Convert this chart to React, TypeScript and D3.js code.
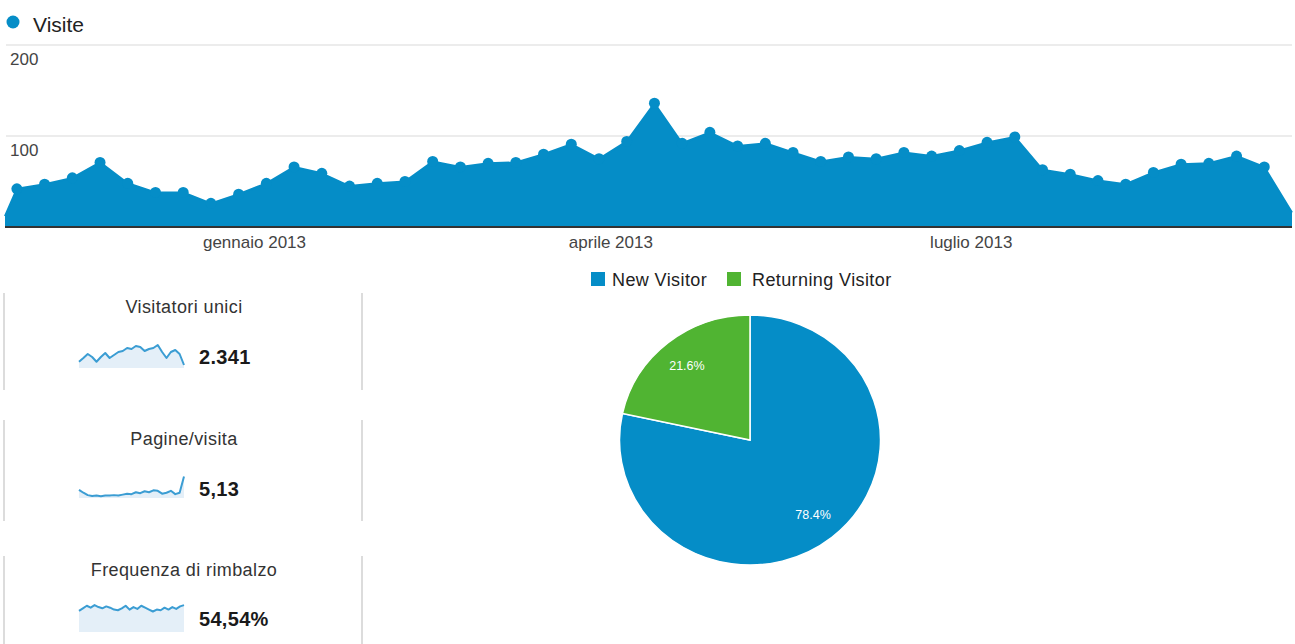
import React from "react";
import * as d3 from "d3";

// ---- Data ----
const visitDates = [
  "2012-10-30",
  "2012-11-02", "2012-11-09", "2012-11-16", "2012-11-23", "2012-11-30",
  "2012-12-07", "2012-12-14", "2012-12-21", "2012-12-28",
  "2013-01-04", "2013-01-11", "2013-01-18", "2013-01-25",
  "2013-02-01", "2013-02-08", "2013-02-15", "2013-02-22",
  "2013-03-01", "2013-03-08", "2013-03-15", "2013-03-22", "2013-03-29",
  "2013-04-05", "2013-04-12", "2013-04-19", "2013-04-26",
  "2013-05-03", "2013-05-10", "2013-05-17", "2013-05-24", "2013-05-31",
  "2013-06-07", "2013-06-14", "2013-06-21", "2013-06-28",
  "2013-07-05", "2013-07-12", "2013-07-19", "2013-07-26",
  "2013-08-02", "2013-08-09", "2013-08-16", "2013-08-23", "2013-08-30",
  "2013-09-06", "2013-09-13",
  "2013-09-20",
];
const visitValues = [
  12,
  42, 47, 54, 71, 48,
  38, 38, 26, 36,
  48, 66, 59, 45,
  48, 50, 72, 66,
  70, 71, 80, 91, 75,
  94, 136, 92, 104,
  89, 92, 82, 72, 77,
  75, 82, 78, 84,
  93, 99, 63, 58,
  51, 47, 60, 69, 70,
  78, 66,
  16,
];
const yTicks = [100, 200];
const monthTicks = ["2013-01-01", "2013-04-01", "2013-07-01"];
const monthLabels = ["gennaio 2013", "aprile 2013", "luglio 2013"];
const seriesName = "Visite";

const kpiTitles = ["Visitatori unici", "Pagine/visita", "Frequenza di rimbalzo"];
const kpiValues = ["2.341", "5,13", "54,54%"];
const sparkUnique = [25, 40, 56, 44, 25, 44, 60, 40, 52, 64, 68, 80, 76, 88, 84, 68, 76, 80, 92, 64, 40, 64, 72, 56, 12];
const sparkPages = [34, 22, 12, 8, 10, 7, 10, 10, 12, 10, 14, 18, 16, 24, 20, 28, 24, 32, 30, 18, 22, 30, 16, 22, 90];
const sparkBounce = [66, 74, 82, 76, 84, 78, 74, 80, 76, 70, 68, 74, 82, 70, 78, 72, 82, 76, 70, 64, 70, 68, 76, 70, 78, 72, 80, 84];

const pieLabels = ["New Visitor", "Returning Visitor"];
const pieValues = [78.4, 21.6];
const pieColors = ["#058dc7", "#50b432"];

const FONT = "'Liberation Sans', Arial, Helvetica, sans-serif";
const BLUE = "#058dc7";

function Sparkline({ data, x0, x1, yTop, yBottom }: { data: number[]; x0: number; x1: number; yTop: number; yBottom: number }) {
  const sx = d3.scaleLinear().domain([0, data.length - 1]).range([x0, x1]);
  const sy = d3.scaleLinear().domain([0, 100]).range([yBottom, yTop]);
  const area = d3.area<number>().x((_, i) => sx(i)).y0(yBottom).y1((d) => sy(d));
  const line = d3.line<number>().x((_, i) => sx(i)).y((d) => sy(d));
  return (
    <g>
      <path d={area(data) || ""} fill="#e4eff8" />
      <path d={line(data) || ""} fill="none" stroke="#3b9dd3" strokeWidth={2} strokeLinejoin="round" />
    </g>
  );
}

export default function App() {
  const W = 1295;
  const H = 644;
  const parse = d3.timeParse("%Y-%m-%d");
  const dates = visitDates.map((s) => parse(s) as Date);
  const x = d3.scaleTime().domain([dates[0], dates[dates.length - 1]]).range([5, 1292]);
  const y = d3.scaleLinear().domain([0, 200]).range([227, 45]);

  const pts = dates.map((d, i) => ({ d, v: visitValues[i] }));
  const area = d3.area<{ d: Date; v: number }>().x((p) => x(p.d)).y0(y(0)).y1((p) => y(p.v));
  const line = d3.line<{ d: Date; v: number }>().x((p) => x(p.d)).y((p) => y(p.v));

  // pie
  const pie = d3.pie<number>().sort(null).value((d) => d)(pieValues);
  const R = 125;
  const arc = d3.arc<d3.PieArcDatum<number>>().innerRadius(0).outerRadius(R);
  const labelArc = d3.arc<d3.PieArcDatum<number>>().innerRadius(R * 0.77).outerRadius(R * 0.77);
  const cx = 750, cy = 440, sxPie = 1.044;

  const kpiBoxes = [
    { top: 293, bottom: 390, titleY: 313, sparkTop: 343, sparkBottom: 368, valueY: 364 },
    { top: 420, bottom: 521, titleY: 445, sparkTop: 474, sparkBottom: 498, valueY: 496 },
    { top: 556, bottom: 644, titleY: 576, sparkTop: 600, sparkBottom: 632, valueY: 626 },
  ];
  const sparks = [sparkUnique, sparkPages, sparkBounce];

  return (
    <svg width={W} height={H} style={{ position: "absolute", left: 0, top: 0, background: "#fff" }} fontFamily={FONT}>
      {/* legend */}
      <circle cx={13} cy={22} r={6.5} fill={BLUE} />
      <text x={33} y={32} fontSize={21} fill="#222">{seriesName}</text>

      {/* gridlines */}
      {yTicks.map((t) => (
        <g key={t}>
          <line x1={6} x2={1292} y1={y(t)} y2={y(t)} stroke="#ececec" strokeWidth={2} />
        </g>
      ))}

      {/* area */}
      <path d={area(pts) || ""} fill={BLUE} />
      <path d={line(pts) || ""} fill="none" stroke={BLUE} strokeWidth={2} strokeLinejoin="round" />
      {pts.slice(1, pts.length - 1).map((p, i) => (
        <circle key={i} cx={x(p.d)} cy={y(p.v)} r={5.5} fill={BLUE} />
      ))}

      {/* tick labels */}
      {yTicks.map((t) => (
        <text key={"l" + t} x={10} y={y(t) + 19.5} fontSize={17} fill="#444">{t}</text>
      ))}

      {/* x axis */}
      <line x1={5} x2={1292} y1={227} y2={227} stroke="#333" strokeWidth={2} />
      {monthTicks.map((m, i) => (
        <text key={m} x={x(parse(m) as Date)} y={248} fontSize={17} fill="#444" textAnchor="middle">{monthLabels[i]}</text>
      ))}

      {/* KPI boxes */}
      {kpiBoxes.map((b, i) => (
        <g key={i}>
          <line x1={4} x2={4} y1={b.top} y2={b.bottom} stroke="#dcdcdc" strokeWidth={2} />
          <line x1={362} x2={362} y1={b.top} y2={b.bottom} stroke="#dcdcdc" strokeWidth={2} />
          <text x={184} y={b.titleY} fontSize={18} letterSpacing={0.4} fill="#333" textAnchor="middle">{kpiTitles[i]}</text>
          <Sparkline data={sparks[i]} x0={79} x1={184} yTop={b.sparkTop} yBottom={b.sparkBottom} />
          <text x={199} y={b.valueY} fontSize={20} fontWeight="bold" fill="#1a1a1a" letterSpacing={0.3}>{kpiValues[i]}</text>
        </g>
      ))}

      {/* pie legend */}
      <rect x={591} y={272} width={14} height={14} fill={pieColors[0]} />
      <text x={612} y={286} fontSize={18} letterSpacing={0.4} fill="#222">{pieLabels[0]}</text>
      <rect x={727} y={272} width={14} height={14} fill={pieColors[1]} />
      <text x={752} y={286} fontSize={18} letterSpacing={0.4} fill="#222">{pieLabels[1]}</text>

      {/* pie */}
      <g transform={`translate(${cx},${cy}) scale(${sxPie},1)`}>
        {pie.map((s, i) => (
          <path key={i} d={arc(s) || ""} fill={pieColors[i]} stroke="#fff" strokeWidth={1.5} vectorEffect="non-scaling-stroke" />
        ))}
      </g>
      {pie.map((s, i) => {
        const [lx, ly] = labelArc.centroid(s);
        return (
          <text key={"pl" + i} x={cx + lx * sxPie} y={cy + ly + 4.5} fontSize={12.5} fill="#fff" textAnchor="middle">
            {pieValues[i].toFixed(1) + "%"}
          </text>
        );
      })}
    </svg>
  );
}
